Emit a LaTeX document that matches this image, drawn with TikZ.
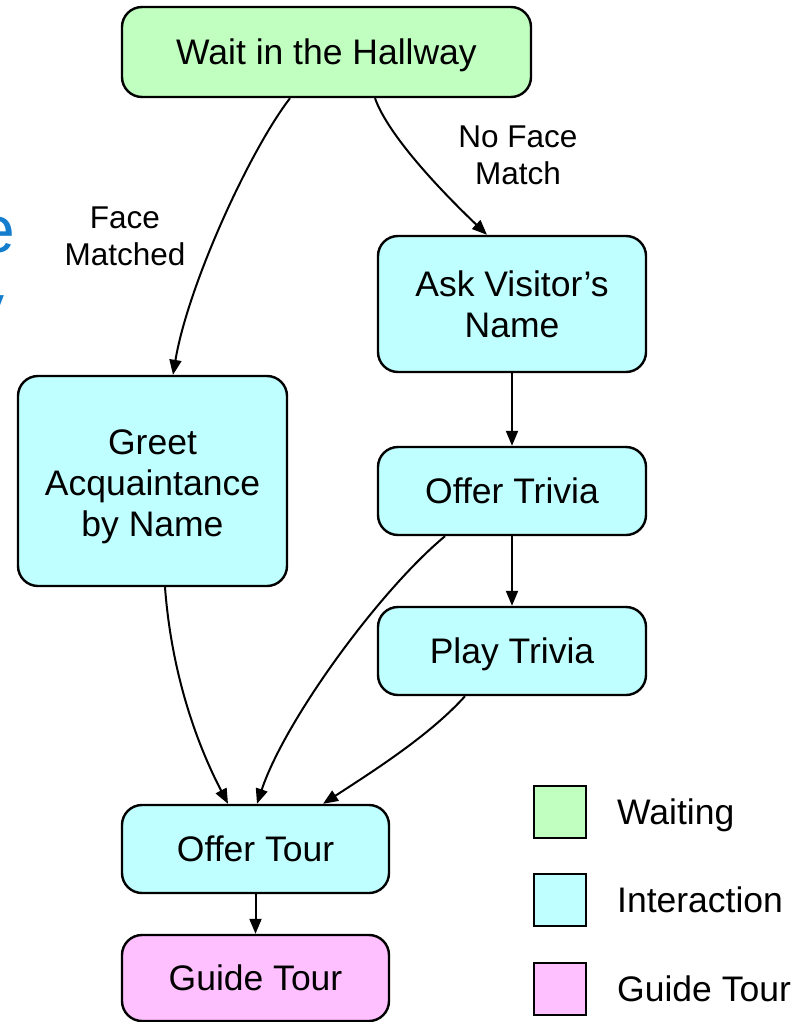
\documentclass[tikz,border=0pt]{standalone}
\usepackage{fontspec}
\setmainfont{Liberation Sans}
\usetikzlibrary{arrows.meta}
\definecolor{waitfill}{RGB}{192,255,192}
\definecolor{actfill}{RGB}{192,255,255}
\definecolor{tourfill}{RGB}{255,192,255}
\definecolor{titleblue}{RGB}{20,125,205}
\tikzset{
  state/.style={draw=black, line width=2.4pt, rounded corners=20pt,
    align=center, inner sep=0pt, font=\fontsize{35.5}{41}\selectfont},
  oneline/.style={text height=25.5pt, text depth=0pt},
  keybox/.style={draw=black, line width=2pt, minimum width=52pt, minimum height=52pt, inner sep=0pt},
  keytext/.style={anchor=west, inner sep=0pt, text height=25.5pt, text depth=0pt,
    font=\fontsize{35.5}{41}\selectfont},
  edgelabel/.style={align=center, inner sep=0pt, font=\fontsize{31.5}{37}\selectfont},
  flow/.style={line width=2pt, -{Triangle[length=15pt, width=12pt]}},
}
\begin{document}
\begin{tikzpicture}[x=1pt, y=-1pt]
\useasboundingbox (0,0) rectangle (808,1022);

% partially visible heading on the left
\node[text=titleblue, anchor=base east, inner sep=0pt, font=\fontsize{66}{66}\selectfont] (hdA) at (15,252) {e};
\node[text=titleblue, anchor=base east, inner sep=0pt, font=\fontsize{66}{66}\selectfont] (hdB) at (5,330) {y};

% states
\node[state, oneline, fill=waitfill, minimum width=409pt, minimum height=90pt] (wait) at (326.5,52) {Wait in the Hallway};
\node[state, fill=actfill, minimum width=268pt, minimum height=136pt] (ask) at (512,304) {Ask Visitor’s\\Name};
\node[state, fill=actfill, minimum width=269pt, minimum height=210pt, text height=118pt, text depth=7.5pt] (greet) at (152.5,481) {Greet\\Acquaintance\\by Name};
\node[state, oneline, fill=actfill, minimum width=268pt, minimum height=88pt] (offertrivia) at (512,491) {Offer Trivia};
\node[state, oneline, fill=actfill, minimum width=268pt, minimum height=88pt] (play) at (512,651) {Play Trivia};
\node[state, oneline, fill=actfill, minimum width=267pt, minimum height=88pt] (offertour) at (255.5,849) {Offer Tour};
\node[state, oneline, fill=tourfill, minimum width=267pt, minimum height=86pt] (guide) at (255.5,978) {Guide Tour};

% transitions
\draw[flow] ([xshift=-36.5pt]wait.south) .. controls (250,150) and (188,285) .. ([xshift=20.5pt]greet.north);
\draw[flow] ([xshift=48.5pt]wait.south) .. controls (388,135) and (440,190) .. ([xshift=-25pt]ask.north);
\draw[flow] (ask.south) -- (offertrivia.north);
\draw[flow] (offertrivia.south) -- (play.north);
\draw[flow] ([xshift=12.5pt]greet.south) .. controls (172,680) and (200,750) .. ([xshift=-27.5pt]offertour.north);
\draw[flow] ([xshift=-67pt]offertrivia.south) .. controls (380,590) and (285,720) .. ([xshift=1.5pt]offertour.north);
\draw[flow] ([xshift=-47pt]play.south) .. controls (430,735) and (375,770) .. ([xshift=67.5pt]offertour.north);
\draw[flow] (offertour.south) -- (guide.north);

% transition labels
\node[edgelabel] (lblmatch) at (125,236) {Face\\Matched};
\node[edgelabel] (lblnomatch) at (518,155) {No Face\\Match};

% legend
\node[keybox, fill=waitfill] (keywait) at (560,812) {};
\node[keybox, fill=actfill] (keyact) at (560,900) {};
\node[keybox, fill=tourfill] (keytour) at (560,989) {};
\node[keytext] (keywaittext) at (617,812) {Waiting};
\node[keytext] (keyacttext) at (617,900) {Interaction};
\node[keytext] (keytourtext) at (617,989) {Guide Tour};
\end{tikzpicture}
\end{document}
